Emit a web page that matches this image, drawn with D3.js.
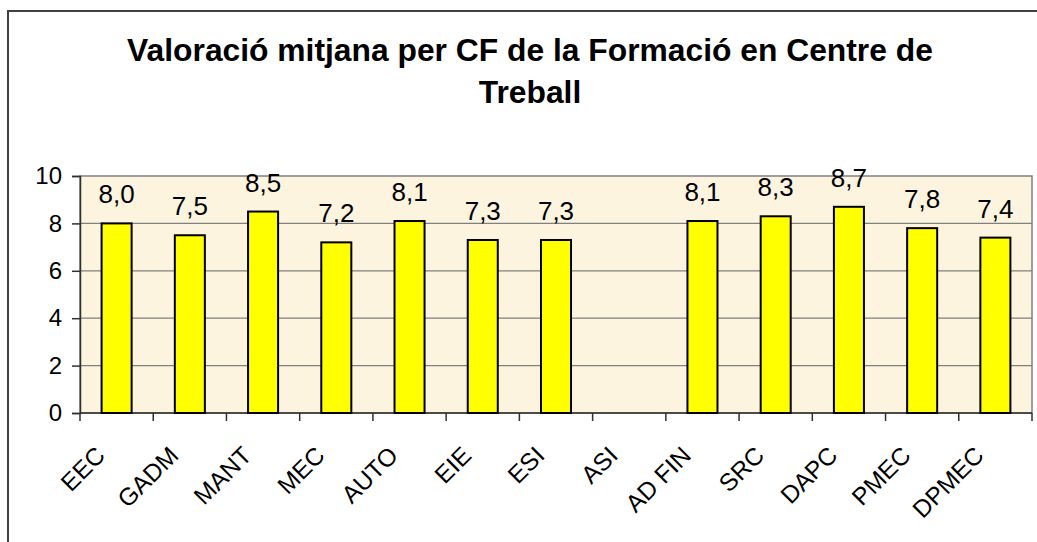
<!DOCTYPE html>
<html>
<head>
<meta charset="utf-8">
<script src="https://cdn.jsdelivr.net/npm/d3@7"></script>
<style>
  body { margin: 0; background: #ffffff; }
  svg { display: block; font-family: "Liberation Sans", Arial, sans-serif; }
</style>
</head>
<body>
<div id="chart"></div>
<script>
// Dades
const categories = ['EEC', 'GADM', 'MANT', 'MEC', 'AUTO', 'EIE', 'ESI', 'ASI', 'AD FIN', 'SRC', 'DAPC', 'PMEC', 'DPMEC'];
const values = [8.0, 7.5, 8.5, 7.2, 8.1, 7.3, 7.3, null, 8.1, 8.3, 8.7, 7.8, 7.4];
const yTicks = [0, 2, 4, 6, 8, 10];
const titleLines = ['Valoració mitjana per CF de la Formació en Centre de', 'Treball'];

const width = 1037;
const height = 542;
const plot = { left: 80, top: 176, right: 1032, bottom: 413 };

const svg = d3.select('#chart')
    .append('svg')
    .attr('width', width)
    .attr('height', height);

// Marc exterior
svg.append('rect')
    .attr('x', 8)
    .attr('y', 11)
    .attr('width', width + 20)
    .attr('height', height + 20)
    .attr('fill', 'none')
    .attr('stroke', '#404040')
    .attr('stroke-width', 2);

// Títol
svg.append('g')
    .selectAll('text')
    .data(titleLines)
    .enter()
    .append('text')
    .attr('x', 530)
    .attr('y', (d, i) => 61 + i * 42)
    .attr('text-anchor', 'middle')
    .attr('font-size', '31.8px')
    .attr('font-weight', 'bold')
    .attr('fill', '#000')
    .text(d => d);

const x = d3.scaleBand()
    .domain(categories)
    .range([plot.left, plot.right])
    .paddingInner(0)
    .paddingOuter(0);

const y = d3.scaleLinear()
    .domain([0, 10])
    .range([plot.bottom, plot.top]);

// Fons de l'àrea
svg.append('rect')
    .attr('x', plot.left)
    .attr('y', plot.top)
    .attr('width', plot.right - plot.left)
    .attr('height', plot.bottom - plot.top)
    .attr('fill', '#fdf4e0')
    .attr('stroke', '#808080')
    .attr('stroke-width', 1.5);

// Línies de graella
svg.append('g')
    .selectAll('line')
    .data(yTicks.filter(t => t > 0 && t < 10))
    .enter()
    .append('line')
    .attr('x1', plot.left)
    .attr('x2', plot.right)
    .attr('y1', d => y(d))
    .attr('y2', d => y(d))
    .attr('stroke', '#808080')
    .attr('stroke-width', 1.2);

// Eix Y
const yAxis = svg.append('g')
    .attr('transform', `translate(${plot.left},0)`)
    .call(d3.axisLeft(y).tickValues(yTicks).tickSize(8).tickPadding(10).tickFormat(d3.format('d')));
yAxis.select('.domain').attr('stroke', '#303030').attr('stroke-width', 1.5);
yAxis.selectAll('.tick line').attr('stroke', '#303030').attr('stroke-width', 1.5);
yAxis.selectAll('text')
    .attr('font-size', '24px')
    .attr('font-family', '"Liberation Sans", Arial, sans-serif')
    .attr('fill', '#000');

// Eix X (marques als límits de cada categoria)
const xg = svg.append('g');
xg.append('line')
    .attr('x1', plot.left)
    .attr('x2', plot.right)
    .attr('y1', plot.bottom)
    .attr('y2', plot.bottom)
    .attr('stroke', '#303030')
    .attr('stroke-width', 1.5);
xg.selectAll('.tickx')
    .data(categories.concat(['__end']))
    .enter()
    .append('line')
    .attr('class', 'tickx')
    .attr('x1', (d, i) => i < categories.length ? x(d) : plot.right)
    .attr('x2', (d, i) => i < categories.length ? x(d) : plot.right)
    .attr('y1', plot.bottom)
    .attr('y2', plot.bottom + 8)
    .attr('stroke', '#303030')
    .attr('stroke-width', 1.5);

// Etiquetes de categoria
xg.selectAll('.catlabel')
    .data(categories)
    .enter()
    .append('text')
    .attr('class', 'catlabel')
    .attr('text-anchor', 'end')
    .attr('font-size', '24.5px')
    .attr('fill', '#000')
    .attr('transform', d => `translate(${x(d) + x.bandwidth() / 2 - 10},${plot.bottom + 44}) rotate(-45)`)
    .text(d => d);

// Barres
const barW = x.bandwidth() * 0.41;
const data = categories.map((c, i) => ({ cat: c, value: values[i] })).filter(d => d.value !== null);

svg.append('g')
    .selectAll('rect')
    .data(data)
    .enter()
    .append('rect')
    .attr('x', d => x(d.cat) + (x.bandwidth() - barW) / 2)
    .attr('y', d => y(d.value))
    .attr('width', barW)
    .attr('height', d => y(0) - y(d.value))
    .attr('fill', '#ffff00')
    .attr('stroke', '#000')
    .attr('stroke-width', 2);

// Valors
const fmt = v => d3.format('.1f')(v).replace('.', ',');
svg.append('g')
    .selectAll('text')
    .data(data)
    .enter()
    .append('text')
    .attr('x', d => x(d.cat) + x.bandwidth() / 2)
    .attr('y', d => y(d.value) - 20)
    .attr('text-anchor', 'middle')
    .attr('font-size', '26px')
    .attr('fill', '#000')
    .text(d => fmt(d.value));
</script>
</body>
</html>
